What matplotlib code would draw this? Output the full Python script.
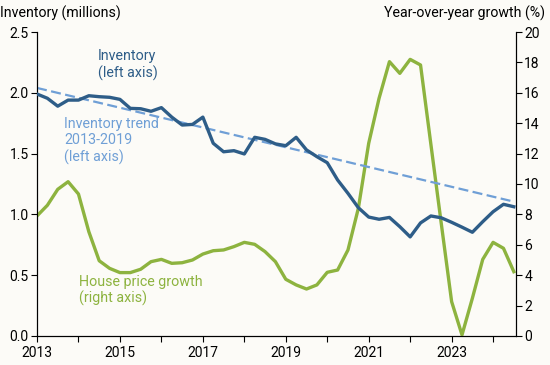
"""
Inventory vs. house price growth, 2013-2024 (quarterly).
Left axis: inventory in millions, with 2013-2019 trend.
Right axis: year-over-year house price growth (%).
"""
import matplotlib
matplotlib.use('Agg')
import matplotlib.pyplot as plt
from matplotlib.ticker import MultipleLocator, FixedLocator, FormatStrFormatter

# ── Data ─────────────────────────────────────────────────────────────────────
start_year = 2013
n_quarters = 47          # 2013Q1 .. 2024Q3
quarters = [start_year + i / 4 for i in range(n_quarters)]

inventory = [
    1.99, 1.955, 1.89, 1.94, 1.94, 1.976, 1.968, 1.963,   # 2013-2014
    1.946, 1.872, 1.869, 1.848, 1.878, 1.80, 1.735, 1.74,  # 2015-2016
    1.80, 1.585, 1.515, 1.524, 1.497, 1.634, 1.617, 1.58,  # 2017-2018
    1.565, 1.634, 1.53, 1.475, 1.425, 1.283, 1.173, 1.055, # 2019-2020
    0.978, 0.96, 0.975, 0.899, 0.815, 0.93, 0.987, 0.972,  # 2021-2022
    0.935, 0.895, 0.853, 0.94, 1.022, 1.083, 1.063,         # 2023-2024
]

price_growth = [
    7.9, 8.6, 9.65, 10.15, 9.34, 6.86, 4.95, 4.45,
    4.17, 4.17, 4.39, 4.89, 5.04, 4.78, 4.82, 5.0,
    5.39, 5.61, 5.66, 5.88, 6.16, 6.03, 5.55, 4.89,
    3.73, 3.36, 3.09, 3.36, 4.19, 4.34, 5.66, 8.4,
    12.68, 15.64, 18.05, 17.28, 18.2, 17.83, 12.6, 7.4,
    2.26, 0.07, 2.48, 5.04, 6.16, 5.77, 4.23,
]

trend_x = [2013.0, 2024.5]
trend_y = [2.04, 1.105]

year_ticks = list(range(2013, 2025))
year_labels = [str(y) if (y - 2013) % 2 == 0 else '' for y in year_ticks]

# ── Style ────────────────────────────────────────────────────────────────────
BG = '#fcfbf7'
C_INV = '#2e5d88'
C_TREND = '#6f9fd6'
C_HPG = '#8db33f'

plt.rcParams['font.family'] = ['Roboto', 'DejaVu Sans']
plt.rcParams['font.size'] = 10

fig = plt.figure(figsize=(5.5, 3.65), dpi=100, facecolor=BG)
ax = fig.add_axes([0.0673, 0.0795, 0.8707, 0.8328])
ax2 = ax.twinx()

ax.plot(trend_x, trend_y, color=C_TREND, lw=1.6, ls=(0, (4.5, 2)), zorder=2)
ax.plot(quarters, inventory, color=C_INV, lw=2.4, zorder=3)
ax2.plot(quarters, price_growth, color=C_HPG, lw=2.4, zorder=3)

# blue series drawn above the green one
ax.set_zorder(ax2.get_zorder() + 1)
ax.patch.set_visible(False)
ax2.set_facecolor(BG)

ax.set_xlim(2013, 2024.55)
ax.set_ylim(0, 2.5)
ax2.set_ylim(0, 20)

ax.yaxis.set_major_locator(MultipleLocator(0.5))
ax.yaxis.set_major_formatter(FormatStrFormatter('%.1f'))
ax2.yaxis.set_major_locator(MultipleLocator(2))
ax.xaxis.set_major_locator(FixedLocator(year_ticks))
ax.set_xticklabels(year_labels)

for a in (ax, ax2):
    a.spines['top'].set_visible(False)
    a.tick_params(direction='out', length=4, width=0.8, labelsize=10, colors='black')
ax.tick_params(axis='y', pad=2)
ax2.tick_params(axis='y', pad=2)

fig.text(0.0, 0.963, 'Inventory (millions)', ha='left', va='center', fontsize=10.2)
fig.text(545 / 550, 0.963, 'Year-over-year growth (%)', ha='right', va='center',
         fontsize=10.2)

ax.text(2014.47, 2.36, 'Inventory\n(left axis)', color=C_INV, fontsize=10.3,
        ha='left', va='top', linespacing=1.2)
ax.text(2013.65, 1.80, 'Inventory trend\n2013-2019\n(left axis)', color=C_TREND,
        fontsize=10.3, ha='left', va='top', linespacing=1.2)
ax.text(2014.02, 0.505, 'House price growth\n(right axis)', color=C_HPG,
        fontsize=10.3, ha='left', va='top', linespacing=1.2)

fig.savefig('out.png', dpi=100, facecolor=BG)
